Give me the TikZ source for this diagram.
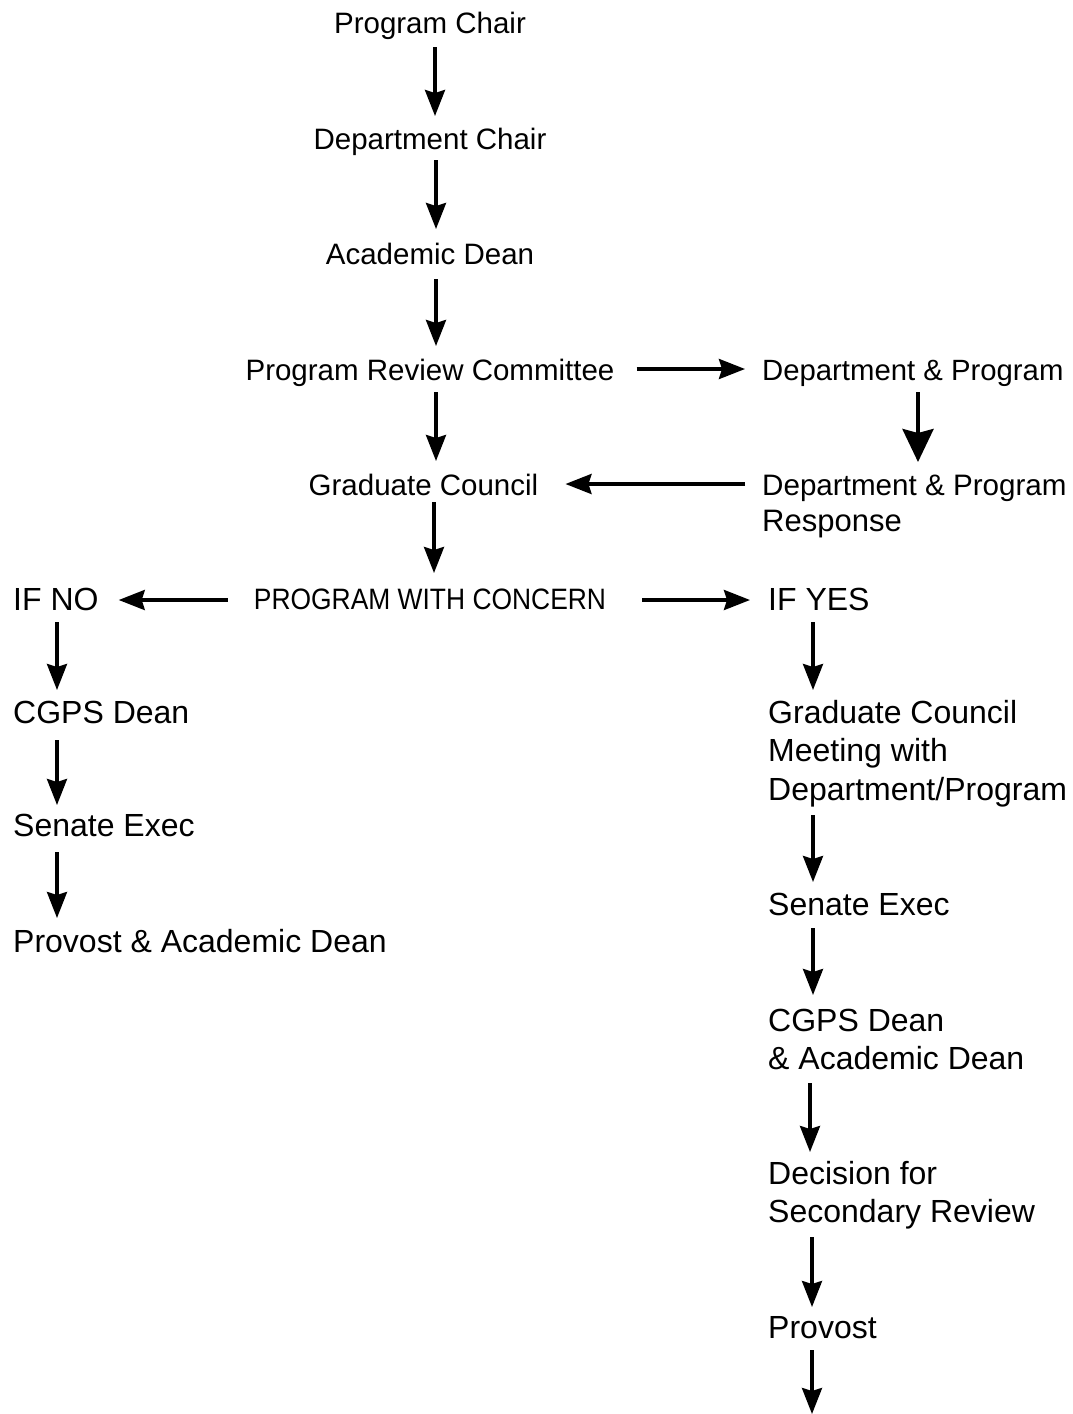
\documentclass[tikz,border=0pt]{standalone}
\usepackage{graphicx}
\usepackage{fontspec}
\setmainfont{Liberation Sans}
\usetikzlibrary{arrows.meta}
\begin{document}
\begin{tikzpicture}[x=1pt,y=-1pt,
  ctr/.style={inner sep=0pt, anchor=base, font=\fontsize{29.5}{36}\selectfont},
  lft/.style={inner sep=0pt, anchor=base west, font=\fontsize{32}{38.5}\selectfont},
  arr/.style={line width=3.4pt, -{Stealth[length=26pt,width=20pt,inset=3pt]}},
  bigarr/.style={line width=4pt, -{Stealth[length=33pt,width=31pt,inset=4pt]}}]
\path[use as bounding box] (0,0) rectangle (1072,1414);
% centre column
\node[ctr] (pc) at (430,33) {Program Chair};
\node[ctr] (dc) at (430,149) {Department Chair};
\node[ctr] (ad) at (430,264) {Academic Dean};
\node[ctr] (prc) at (430,380) {Program Review Committee};
\node[ctr] (gc) at (423.5,495) {Graduate Council};
\node[ctr] (pwc) at (430,609) {\scalebox{0.895}[1]{PROGRAM WITH CONCERN}};
% upper right
\node[lft, font=\fontsize{29.3}{36}\selectfont] (dp) at (762,380) {Department \& Program};
\node[lft, font=\fontsize{29.6}{36}\selectfont] (dpr) at (762,495) {\vtop{\hbox{Department \& Program}\hbox{\fontsize{31}{36}\selectfont Response}}};
% branches
\node[lft] (ifno) at (13,610) {IF NO};
\node[lft] (ifyes) at (768,610) {IF YES};
% left column
\node[lft] (cgpsL) at (13,723) {CGPS Dean};
\node[lft] (seL) at (13,836) {Senate Exec};
\node[lft] (paL) at (13,952) {Provost \& Academic Dean};
% right column
\node[lft] (gcm) at (768,723) {\vtop{\hbox{Graduate Council}\hbox{Meeting with}\hbox{Department/Program}}};
\node[lft] (seR) at (768,915) {Senate Exec};
\node[lft] (cgpsR) at (768,1031) {\vtop{\hbox{CGPS Dean}\hbox{\& Academic Dean}}};
\node[lft] (dec) at (768,1184) {\vtop{\hbox{Decision for}\hbox{Secondary Review}}};
\node[lft] (prov) at (768,1338) {Provost};
\coordinate (end) at (812,1414);
% connectors, centre
\draw[arr] ([shift={(5,14)}]pc.base) -- ([shift={(5,-33)}]dc.base);
\draw[arr] ([shift={(6,11)}]dc.base) -- ([shift={(6,-35)}]ad.base);
\draw[arr] ([shift={(6,15)}]ad.base) -- ([shift={(6,-34)}]prc.base);
\draw[arr] ([shift={(6,12)}]prc.base) -- ([shift={(12.5,-34)}]gc.base);
\draw[arr] ([shift={(10.5,7)}]gc.base) -- ([shift={(4,-36)}]pwc.base);
% connectors, upper right loop
\draw[arr] ([shift={(22,-11)}]prc.base east) -- ([shift={(-17,-11)}]dp.base west);
\draw[bigarr] ([shift={(156,12)}]dp.base west) -- ([shift={(156,-33)}]dpr.base west);
\draw[arr] ([shift={(-17,-11)}]dpr.base west) -- ([shift={(27,-11)}]gc.base east);
% branches
\draw[arr] ([shift={(-26,-9)}]pwc.base west) -- ([shift={(20,-10)}]ifno.base east);
\draw[arr] ([shift={(36,-9)}]pwc.base east) -- ([shift={(-18,-10)}]ifyes.base west);
% left column
\draw[arr] ([shift={(44,12)}]ifno.base west) -- ([shift={(44,-33)}]cgpsL.base west);
\draw[arr] ([shift={(44,17)}]cgpsL.base west) -- ([shift={(44,-31)}]seL.base west);
\draw[arr] ([shift={(44,16)}]seL.base west) -- ([shift={(44,-34)}]paL.base west);
% right column
\draw[arr] ([shift={(45,12)}]ifyes.base west) -- ([shift={(45,-33)}]gcm.base west);
\draw[arr] ([shift={(45,92)}]gcm.base west) -- ([shift={(45,-33)}]seR.base west);
\draw[arr] ([shift={(45,13)}]seR.base west) -- ([shift={(45,-36)}]cgpsR.base west);
\draw[arr] ([shift={(42,52)}]cgpsR.base west) -- ([shift={(42,-32)}]dec.base west);
\draw[arr] ([shift={(44,53)}]dec.base west) -- ([shift={(44,-31)}]prov.base west);
\draw[arr] ([shift={(44,12)}]prov.base west) -- (end);
\end{tikzpicture}
\end{document}
